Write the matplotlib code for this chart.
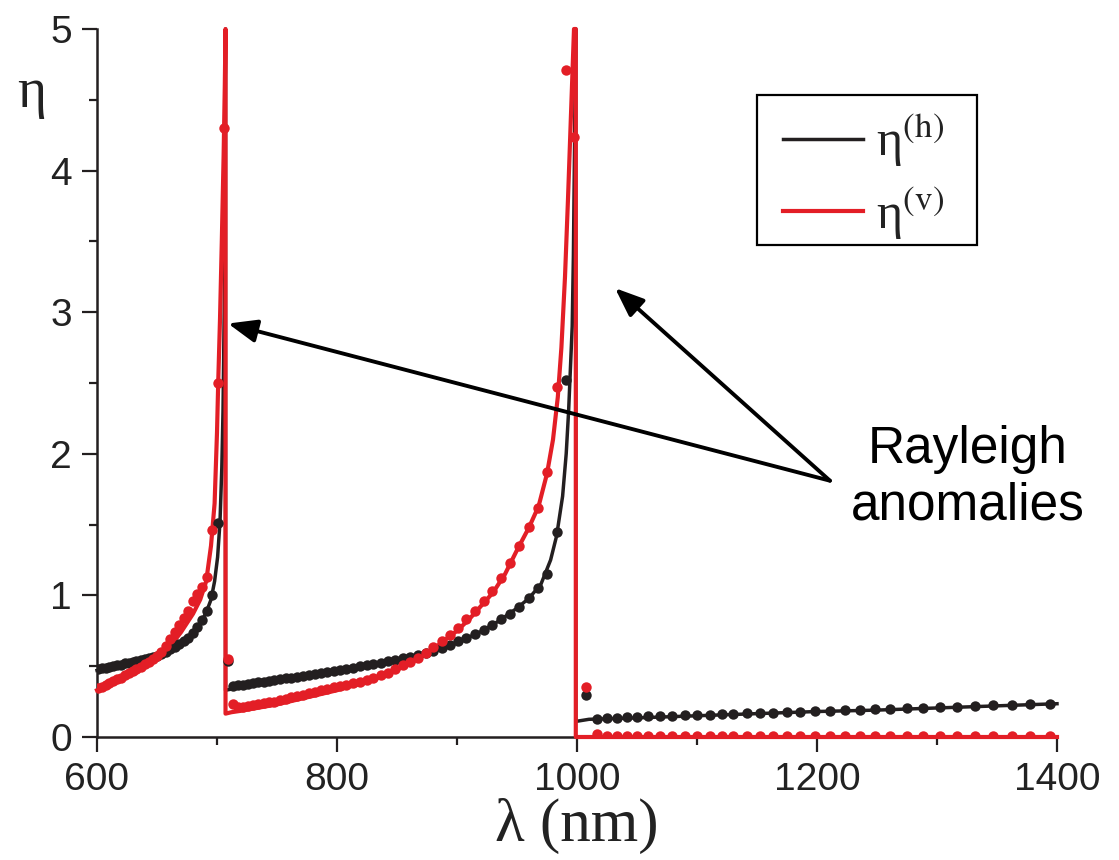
import matplotlib
matplotlib.use('Agg')
import matplotlib.pyplot as plt
from matplotlib.lines import Line2D
from matplotlib.patches import Rectangle
from matplotlib.ticker import MultipleLocator

plt.rcParams['font.family'] = ['Liberation Sans', 'DejaVu Sans']
plt.rcParams['mathtext.fontset'] = 'stix'

BLACK = '#231f20'
RED = '#e31e26'
NaN = float('nan')

# ---- fitted curves (lines) ----
lam_h_line = [600, 610, 620, 630, 640, 650, 660, 670, 680, 686, 691, 695, 698, 700.5, 702.5, 704, 705, 706, 706.6, 707.1,
              707.1, 710, 720, 740, 760, 780, 800, 820, 840, 860, 880, 900, 920, 935, 950, 960, 970, 978, 983, 988,
              991, 993, 995, 996, 997, 998, 998.8, 999,
              999, 1010, 1050, 1100, 1150, 1200, 1250, 1300, 1350, 1400]
eta_h_line = [0.47, 0.49, 0.505, 0.52, 0.54, 0.565, 0.605, 0.655, 0.73, 0.80, 0.88, 0.97, 1.10, 1.27, 1.52, 1.9, 2.3, 3.0, 3.8, 5.0,
              0.33, 0.335, 0.35, 0.38, 0.41, 0.435, 0.46, 0.49, 0.52, 0.555, 0.60, 0.665, 0.745, 0.82, 0.91, 0.98, 1.08, 1.25, 1.42, 1.7,
              2.0, 2.3, 2.7, 2.9, 3.4, 4.2, 5.0, 5.0,
              0.11, 0.125, 0.135, 0.15, 0.165, 0.18, 0.19, 0.205, 0.22, 0.235]

lam_v_line = [600, 610, 620, 630, 640, 650, 660, 670, 680, 686, 691, 695, 696, 698, 700, 701, 702.5, 704, 705.5, 706.5, 707.1,
              707.1, 712, 720, 730, 740, 750, 760, 770, 780, 790, 800, 810, 820, 830, 840, 850, 860, 870, 880, 890,
              900, 910, 920, 930, 940, 950, 960, 968, 975, 980, 984, 987, 990, 992.5, 995, 997.5,
              999, 999, 1400]
eta_v_line = [0.33, 0.365, 0.405, 0.45, 0.50, 0.555, 0.63, 0.74, 0.87, 0.97, 1.10, 1.35, 1.45, 1.65, 2.15, 2.5, 2.95, 3.5, 4.1, 4.6, 5.0,
              0.165, 0.175, 0.185, 0.20, 0.215, 0.23, 0.25, 0.27, 0.29, 0.31, 0.33, 0.355, 0.375, 0.40, 0.44, 0.475, 0.515, 0.565, 0.62, 0.685,
              0.75, 0.83, 0.925, 1.02, 1.15, 1.32, 1.48, 1.63, 1.86, 2.1, 2.4, 2.75, 3.25, 3.8, 4.4, 5.0,
              5.0, 0.0, 0.0]

# ---- computed points (dots) ----
lam_pts = [601.1, 604.1, 607.2, 610.3, 613.4, 616.6, 619.8, 623.0, 626.3, 629.6,
           632.9, 636.3, 639.7, 643.1, 646.6, 650.1, 653.7, 657.3, 660.9, 664.6,
           668.3, 672.1, 675.9, 679.7, 683.6, 687.5, 691.5, 695.6, 700.5, 705.8,
           709.2, 713.0, 717.2, 721.4, 725.7, 730.0, 734.4, 738.8, 743.3, 747.8,
           752.4, 757.2, 762.0, 766.8, 771.7, 776.7, 781.7, 786.8, 791.9, 797.1,
           802.4, 807.8, 813.3, 818.9, 824.6, 830.4, 836.3, 842.3, 848.4, 854.6,
           860.9, 867.3, 873.8, 880.4, 887.1, 893.9, 900.8, 907.8, 914.9, 922.1,
           929.4, 936.8, 944.3, 951.9, 959.6, 967.4, 975.3, 983.3, 990.5, 997.5,
           1007.5, 1016.3, 1025, 1033, 1042, 1050, 1059, 1069, 1079, 1090,
           1100, 1111, 1121, 1130, 1142, 1152.5, 1163, 1175, 1186, 1198,
           1211, 1223, 1236, 1248, 1261, 1275, 1288, 1302.5, 1317, 1332,
           1347, 1362.5, 1377.5, 1394]
eta_h_pts = [0.48, 0.485, 0.49, 0.495, 0.50, 0.505, 0.51, 0.52, 0.525, 0.53,
             0.54, 0.545, 0.55, 0.56, 0.565, 0.575, 0.585, 0.60, 0.62, 0.635,
             0.655, 0.675, 0.70, 0.735, 0.775, 0.825, 0.89, 1.0, 1.51, NaN,
             0.54, 0.36, 0.365, 0.37, 0.375, 0.38, 0.385, 0.39, 0.395, 0.40,
             0.41, 0.415, 0.42, 0.425, 0.43, 0.44, 0.445, 0.45, 0.46, 0.465,
             0.47, 0.48, 0.49, 0.50, 0.505, 0.515, 0.525, 0.535, 0.545, 0.555,
             0.565, 0.58, 0.595, 0.61, 0.63, 0.65, 0.675, 0.70, 0.725, 0.755,
             0.79, 0.83, 0.87, 0.92, 0.98, 1.05, 1.15, 1.45, 2.52, NaN,
             0.30, 0.13, 0.135, 0.137, 0.14, 0.142, 0.145, 0.148, 0.15, 0.153,
             0.155, 0.158, 0.16, 0.163, 0.166, 0.169, 0.172, 0.175, 0.178, 0.181,
             0.185, 0.188, 0.192, 0.195, 0.199, 0.203, 0.207, 0.211, 0.215, 0.219,
             0.223, 0.227, 0.231, 0.236]
eta_v_pts = [0.345, 0.355, 0.37, 0.38, 0.395, 0.41, 0.42, 0.435, 0.45, 0.465,
             0.48, 0.495, 0.515, 0.53, 0.55, 0.57, 0.60, 0.64, 0.69, 0.745,
             0.79, 0.84, 0.89, 0.96, 1.01, 1.06, 1.13, 1.46, 2.5, 4.3,
             0.55, 0.235, 0.21, 0.215, 0.22, 0.225, 0.23, 0.24, 0.245, 0.25,
             0.26, 0.27, 0.28, 0.29, 0.30, 0.31, 0.32, 0.33, 0.34, 0.35,
             0.36, 0.37, 0.38, 0.39, 0.40, 0.415, 0.435, 0.455, 0.48, 0.505,
             0.53, 0.56, 0.595, 0.635, 0.675, 0.72, 0.77, 0.83, 0.89, 0.96,
             1.03, 1.12, 1.23, 1.35, 1.48, 1.62, 1.87, 2.47, 4.71, 4.24,
             0.35, 0.02, 0.01, 0.01, 0.01, 0.01, 0.01, 0.01, 0.01, 0.01,
             0.01, 0.01, 0.01, 0.01, 0.01, 0.01, 0.01, 0.01, 0.01, 0.01,
             0.01, 0.01, 0.01, 0.01, 0.01, 0.01, 0.01, 0.01, 0.01, 0.01,
             0.01, 0.01, 0.01, 0.01]

legend_labels = [r'η$^{\mathrm{(h)}}$', r'η$^{\mathrm{(v)}}$']
annotation_text = 'Rayleigh\nanomalies'
arrow_tail = (1210.8, 1.81)
arrow_tips = [(709.2, 2.92), (1031.7, 3.17)]

W, H = 1119, 860
fig = plt.figure(figsize=(W / 100, H / 100), dpi=100)
ax = fig.add_axes([97 / W, 123 / H, 960 / W, 708 / H])

ax.plot(lam_h_line, eta_h_line, color=BLACK, lw=2.5, clip_on=False, zorder=2)
ax.plot(lam_v_line, eta_v_line, color=RED, lw=3.0, clip_on=False, zorder=3)
ax.plot(lam_pts, eta_h_pts, 'o', color=BLACK, ms=7.5, mew=0, zorder=4)
ax.plot(lam_pts, eta_v_pts, 'o', color=RED, ms=7.5, mew=0, zorder=5)

ax.set_xlim(600, 1400)
ax.set_ylim(0, 5)
ax.xaxis.set_major_locator(MultipleLocator(200))
ax.xaxis.set_minor_locator(MultipleLocator(100))
ax.yaxis.set_major_locator(MultipleLocator(1))
ax.yaxis.set_minor_locator(MultipleLocator(0.5))
for s in ['top', 'right']:
    ax.spines[s].set_visible(False)
for s in ['left', 'bottom']:
    ax.spines[s].set_linewidth(1.8)
    ax.spines[s].set_color(BLACK)
ax.tick_params(which='major', direction='out', length=11, width=1.6, labelsize=28,
               pad=7, colors=BLACK, labelcolor='#222222')
ax.tick_params(which='minor', direction='out', length=6, width=1.6, colors=BLACK)

ax.set_xlabel('λ (nm)', fontsize=44, fontfamily=['Liberation Serif', 'DejaVu Serif'],
              labelpad=0, color='#222222')
ax.set_ylabel('η', fontsize=40, fontfamily=['Liberation Serif', 'DejaVu Serif'],
              rotation=0, ha='center', va='baseline', color='#222222')
ax.yaxis.set_label_coords(-0.068, 0.89)

# legend (entries) + its box
handles = [Line2D([], [], color=BLACK, lw=2.5), Line2D([], [], color=RED, lw=3.0)]
leg = ax.legend(handles, legend_labels, loc='upper left',
                bbox_to_anchor=(783 / W, 1 - 113 / H), bbox_transform=fig.transFigure,
                borderaxespad=0, prop={'family': ['Liberation Serif', 'DejaVu Serif'], 'size': 36},
                handlelength=1.6, handletextpad=0.25,
                borderpad=0, labelspacing=0.32, frameon=False)
for t in leg.get_texts():
    t.set_color('#222222')
fig.add_artist(Rectangle((757 / W, 1 - 245 / H), 220 / W, 150 / H, transform=fig.transFigure,
                         fill=False, lw=1.6, ec='black'))

for tip in arrow_tips:
    ax.annotate('', xy=tip, xytext=arrow_tail,
                arrowprops=dict(arrowstyle='-|>,head_length=0.7,head_width=0.28',
                                lw=2.8, color='black', shrinkA=0, shrinkB=0,
                                mutation_scale=25))
ax.text(1325.8, 1.83, annotation_text, ha='center', va='center', fontsize=37,
        fontfamily=['Liberation Sans', 'DejaVu Sans'], linespacing=1.2, color='black')

fig.savefig('out.png', dpi=100)
